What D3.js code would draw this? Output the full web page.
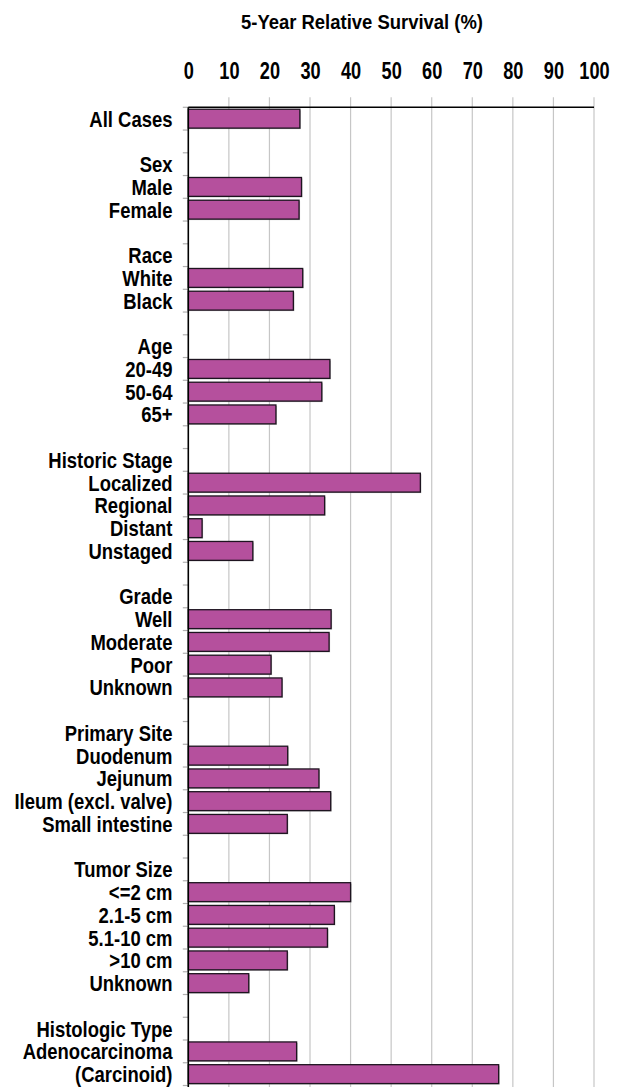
<!DOCTYPE html>
<html>
<head>
<meta charset="utf-8">
<script src="https://cdn.jsdelivr.net/npm/d3@7"></script>
<style>
  html, body { margin: 0; padding: 0; background: #fff; }
  svg { display: block; }
  text { font-family: 'Liberation Sans', Arial, sans-serif; font-weight: bold; fill: #000; }
</style>
</head>
<body>
<svg id="chart" width="624" height="1087"></svg>
<script>
// ---- Data ----
const rowLabels = [
  "All Cases", "",
  "Sex", "Male", "Female", "",
  "Race", "White", "Black", "",
  "Age", "20-49", "50-64", "65+", "",
  "Historic Stage", "Localized", "Regional", "Distant", "Unstaged", "",
  "Grade", "Well", "Moderate", "Poor", "Unknown", "",
  "Primary Site", "Duodenum", "Jejunum", "Ileum (excl. valve)", "Small intestine", "",
  "Tumor Size", "<=2 cm", "2.1-5 cm", "5.1-10 cm", ">10 cm", "Unknown", "",
  "Histologic Type", "Adenocarcinoma", "(Carcinoid)"
];
const survival = [
  27.5, null,
  null, 27.9, 27.3, null,
  null, 28.2, 25.9, null,
  null, 34.9, 32.9, 21.6, null,
  null, 57.2, 33.6, 3.4, 15.9, null,
  null, 35.2, 34.7, 20.4, 23.1, null,
  null, 24.5, 32.2, 35.1, 24.4, null,
  null, 40.0, 36.0, 34.3, 24.4, 14.9, null,
  null, 26.7, 76.5
];
const xTicks = [0, 10, 20, 30, 40, 50, 60, 70, 80, 90, 100];
const chartTitle = "5-Year Relative Survival (%)";

// ---- Layout ----
const svg = d3.select("#chart");
const mLeft = 188.3, mRight = 594, mTop = 107.3, mBottom = 1085.5;

const x = d3.scaleLinear().domain([0, 100]).range([mLeft, mRight]);
const rows = rowLabels.map((d, i) => i);
const y = d3.scaleBand().domain(rows).range([mTop, mBottom]).paddingInner(0.17).paddingOuter(0.085);
const step = y.step();

// gridlines
svg.append("g").selectAll("line").data(xTicks.slice(1)).join("line")
  .attr("x1", d => x(d)).attr("x2", d => x(d))
  .attr("y1", mTop - 10).attr("y2", 1087)
  .attr("stroke", "#c6c6c6").attr("stroke-width", 1.2);

// top axis with tick labels
const xAxis = d3.axisTop(x).tickValues(xTicks).tickSize(0).tickPadding(0).tickFormat(d3.format("d"));
const gx = svg.append("g").attr("transform", `translate(0, 78.5)`).call(xAxis);
gx.select(".domain").remove();
gx.selectAll("text").attr("font-size", 23).attr("dy", 0).attr("fill", "#000")
  .attr("transform", "scale(0.79,1)")
  .style("font-family", "'Liberation Sans', Arial, sans-serif").style("font-weight", "bold");

// left tick marks at band boundaries
const boundaries = d3.range(rowLabels.length + 1).map(i => mTop + i * step);
svg.append("g").selectAll("line").data(boundaries).join("line")
  .attr("x1", mLeft - 5.5).attr("x2", mLeft)
  .attr("y1", d => d).attr("y2", d => d)
  .attr("stroke", "#b0b0b0").attr("stroke-width", 1.2);

// bars (shadow + bar)
const barData = rows.filter(i => survival[i] != null);
svg.append("g").selectAll("rect").data(barData).join("rect")
  .attr("x", x(0) + 1).attr("y", i => y(i) + 1)
  .attr("width", i => x(survival[i]) - x(0))
  .attr("height", y.bandwidth())
  .attr("fill", "#8a8a8a").attr("opacity", 0.6);
svg.append("g").selectAll("rect").data(barData).join("rect")
  .attr("x", x(0)).attr("y", i => y(i))
  .attr("width", i => x(survival[i]) - x(0))
  .attr("height", y.bandwidth())
  .attr("fill", "#b5509d").attr("stroke", "#1e1420").attr("stroke-width", 1.3);

// axis lines
svg.append("line").attr("x1", mLeft).attr("x2", mRight).attr("y1", mTop).attr("y2", mTop)
  .attr("stroke", "#000").attr("stroke-width", 1.4);
svg.append("line").attr("x1", mLeft).attr("x2", mLeft).attr("y1", mTop).attr("y2", 1087)
  .attr("stroke", "#000").attr("stroke-width", 1.6);

// row labels (condensed)
svg.append("g").selectAll("text").data(rows.filter(i => rowLabels[i] !== "")).join("text")
  .attr("transform", i => `translate(172.5, ${y(i) + y.bandwidth() / 2}) scale(0.84,1)`)
  .attr("dy", "0.36em").attr("text-anchor", "end").attr("font-size", 22)
  .text(i => rowLabels[i]);

// title
svg.append("text").attr("transform", "translate(362, 29) scale(0.9,1)").attr("text-anchor", "middle")
  .attr("font-size", 20.5).text(chartTitle);
</script>
</body>
</html>
